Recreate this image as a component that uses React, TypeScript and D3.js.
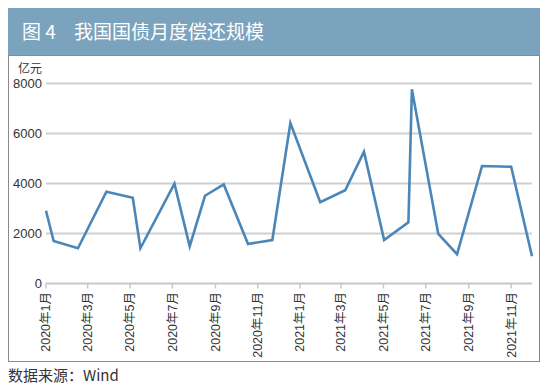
import React from 'react';
import * as d3 from 'd3';

// observation dates and repayment amounts (亿元)
const dates = [
    '2020-01-01', '2020-01-12', '2020-02-16', '2020-03-28', '2020-05-05', '2020-05-16',
    '2020-07-04', '2020-07-26', '2020-08-17', '2020-09-13', '2020-10-18', '2020-11-22',
    '2020-12-18', '2021-01-30', '2021-03-07', '2021-04-03', '2021-05-02', '2021-06-06',
    '2021-06-11', '2021-07-19', '2021-08-15', '2021-09-20', '2021-11-01', '2021-12-01',
];
const values = [
    2910, 1700, 1410, 3670, 3430, 1410,
    3990, 1490, 3510, 3960, 1580, 1740,
    6420, 3250, 3730, 5270, 1740, 2450,
    7770, 1980, 1170, 4700, 4670, 1090,
];
const yTicks = [0, 2000, 4000, 6000, 8000];

const parse = d3.timeParse('%Y-%m-%d');
const points = dates.map((d, i) => ({ date: parse(d) as Date, value: values[i] }));

const FONT = '"Liberation Sans", "Noto Sans CJK SC", sans-serif';
const CJK = '"Noto Sans CJK SC", sans-serif';

export default function App() {
    const width = 550;
    const height = 389;
    const plot = { left: 46, right: 532, top: 83.5, bottom: 283.5 };

    const x = d3.scaleTime()
        .domain([new Date(2020, 0, 1), new Date(2021, 11, 1)])
        .range([plot.left, plot.right]);
    const y = d3.scaleLinear().domain([0, 8000]).range([plot.bottom, plot.top]);

    const xTicks = x.ticks(d3.timeMonth.every(2) as d3.TimeInterval)
        .filter(d => d < new Date(2021, 11, 1));
    const fmt = (d: Date) => `${d.getFullYear()}年${d.getMonth() + 1}月`;

    const line = d3.line<{ date: Date; value: number }>()
        .x(d => x(d.date))
        .y(d => y(d.value));

    return (
        <div style={{ position: 'absolute', left: 0, top: 0 }}>
            <svg width={width} height={height} style={{ display: 'block', background: '#fff' }}>
                {/* title bar */}
                <rect x={8} y={8} width={532} height={47} fill="#7BA3BE" />
                <text x={22} y={39} fill="#fff" fontSize={19} fontFamily={CJK}>图 4</text>
                <text x={74} y={39} fill="#fff" fontSize={19} fontFamily={CJK}>我国国债月度偿还规模</text>

                {/* frame */}
                <rect x={8.5} y={55.5} width={531} height={306} fill="none" stroke="#8a8a8a" strokeWidth={1} />

                {/* grid + y labels */}
                {yTicks.map(t => (
                    <g key={t}>
                        {t > 0 && (
                            <line x1={plot.left} x2={plot.right} y1={y(t)} y2={y(t)} stroke="#cfcfcf" strokeWidth={2} />
                        )}
                        <text x={42} y={y(t)} dy="0.35em" textAnchor="end" fontSize={13} fill="#333" fontFamily={FONT}>{t}</text>
                    </g>
                ))}
                <text x={42} y={73} textAnchor="end" fontSize={12} fill="#333" fontFamily={CJK}>亿元</text>

                {/* x axis */}
                <line x1={plot.left} x2={plot.right} y1={plot.bottom} y2={plot.bottom} stroke="#c8c8c8" strokeWidth={2} />
                {xTicks.map(t => (
                    <g key={t.getTime()} transform={`translate(${x(t)},${plot.bottom})`}>
                        <line y1={0} y2={5} stroke="#c8c8c8" strokeWidth={1.5} />
                        <text transform="rotate(-90)" x={-8.5} y={0} dy="0.35em" textAnchor="end" fontSize={12.5} fill="#333" fontFamily={FONT}>
                            {fmt(t)}
                        </text>
                    </g>
                ))}

                {/* series */}
                <path d={line(points) || ''} fill="none" stroke="#4A86B8" strokeWidth={2.6} strokeLinejoin="miter" />

                {/* source */}
                <text x={8} y={381} fontSize={15} fill="#333" fontFamily='"Noto Sans CJK SC", "Liberation Sans", sans-serif'>数据来源：Wind</text>
            </svg>
        </div>
    );
}
